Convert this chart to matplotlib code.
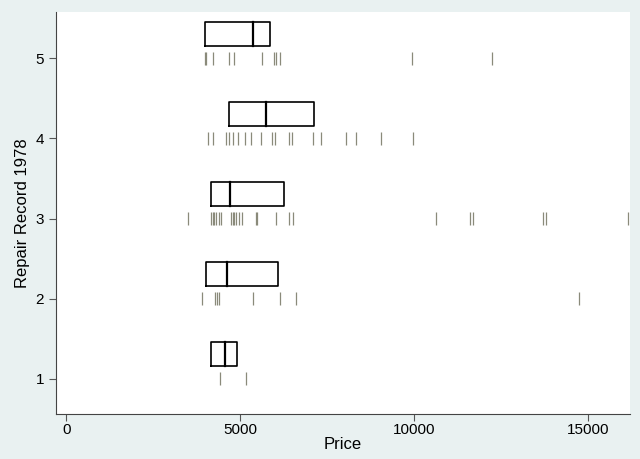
import matplotlib
matplotlib.use("Agg")
import matplotlib.pyplot as plt

plt.rcParams['font.family'] = ['Liberation Sans', 'DejaVu Sans']

# repair record groups
reps = [1, 2, 3, 4, 5]

# box summaries (q1, median, q3)
q1 = [4157, 4002, 4165, 4670, 3973]
med = [4547, 4624, 4710, 5723, 5359]
q3 = [4890, 6076, 6259, 7109, 5857]

# rug ticks per group
rug1 = [4426, 5163]
rug2 = [3887, 4260, 4326, 4383, 5359, 6124, 6598, 14730]
rug3 = [3500, 4165, 4203, 4240, 4309, 4383, 4452, 4739, 4776, 4814, 4882,
        4957, 5055, 5436, 5465, 6030, 6411, 6526, 10614, 11604, 11690,
        13698, 13784, 16136]
rug4 = [4068, 4211, 4596, 4670, 4785, 4928, 5120, 5313, 5600, 5895, 5995,
        6411, 6497, 7080, 7329, 8047, 8333, 9050, 9948]
rug5 = [3982, 4022, 4211, 4670, 4814, 5617, 5961, 6030, 6124, 9920, 12226]
rugs = [rug1, rug2, rug3, rug4, rug5]

fig = plt.figure(figsize=(6.4, 4.59), dpi=100)
fig.patch.set_facecolor('#e9f1f1')
ax = fig.add_axes([0.0875, 0.098, 0.897, 0.876])
ax.set_facecolor('white')

box_off = 0.31
box_h = 0.30
for r, a, m, b, rug in zip(reps, q1, med, q3, rugs):
    y0 = r + box_off - box_h / 2
    y1 = r + box_off + box_h / 2
    ax.plot([a, b, b, a, a], [y0, y0, y1, y1, y0], color='black', lw=1.2)
    ax.plot([m, m], [y0, y1], color='black', lw=1.6)
    ax.vlines(rug, r - 0.08, r + 0.08, color='#8a8a7a', lw=0.9)

ax.set_xlim(-300, 16200)
ax.set_ylim(0.56, 5.58)
ax.set_xticks([0, 5000, 10000, 15000])
ax.set_yticks(reps)
ax.tick_params(labelsize=11, length=5, color='#555555')
ax.tick_params(axis='x', pad=1.5)
for s in ['top', 'right']:
    ax.spines[s].set_visible(False)
for s in ['left', 'bottom']:
    ax.spines[s].set_color('#444444')
ax.set_xlabel('Price', fontsize=12, labelpad=0)
ax.set_ylabel('Repair Record 1978', fontsize=12)

fig.savefig('out.png', dpi=100, facecolor=fig.get_facecolor())
